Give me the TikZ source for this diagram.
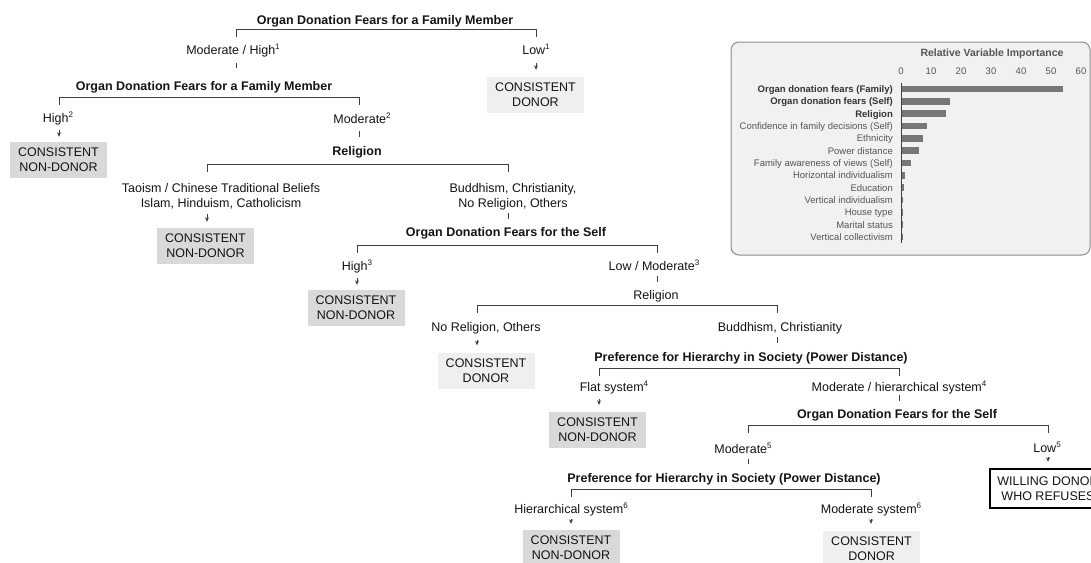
\documentclass[tikz,border=0pt]{standalone}
\usepackage{fontspec}
\setmainfont{Liberation Sans}
\usetikzlibrary{arrows.meta}
\definecolor{txt}{HTML}{141414}
\definecolor{lc}{HTML}{3F3F3F}
\definecolor{lightbox}{HTML}{EFEFEF}
\definecolor{darkbox}{HTML}{D9D9D9}
\definecolor{chartbg}{HTML}{F1F1F1}
\definecolor{frame}{HTML}{8C8C8C}
\definecolor{barc}{HTML}{777777}
\definecolor{cbold}{HTML}{333333}
\definecolor{creg}{HTML}{555555}
\newcommand\supr[1]{\raisebox{0.42em}{\fontsize{8}{8}\selectfont #1}}
\begin{document}
\begin{tikzpicture}[x=1pt,y=-1pt,
  lab/.style={font=\fontsize{12.5}{15}\selectfont, text=txt, inner sep=0pt, text height=9pt, text depth=3pt, anchor=base},
  ttl/.style={lab, font=\fontsize{12.5}{15}\selectfont\bfseries},
  ml/.style={font=\fontsize{12.5}{15}\selectfont, text=txt, inner sep=0pt, align=center, anchor=north},
  box/.style={font=\fontsize{12.5}{15}\selectfont, text=txt, align=center, minimum width=97pt, minimum height=36pt, inner sep=0pt},
  nond/.style={box, fill=darkbox},
  don/.style={box, fill=lightbox},
  will/.style={box, draw=black, line width=2.5pt, fill=white, minimum width=116pt, minimum height=39pt},
  ln/.style={draw=lc, line width=1pt},
  arr/.style={ln, -{Stealth[length=4.5pt, width=4pt]}},
  clabb/.style={font=\fontsize{9.5}{11}\selectfont\bfseries, text=cbold, inner sep=0pt, anchor=base east},
  clabr/.style={font=\fontsize{9.5}{11}\selectfont, text=creg, inner sep=0pt, anchor=base east},
  ctick/.style={font=\fontsize{9.5}{11}\selectfont, text=creg, inner sep=0pt, anchor=base},
  ctitle/.style={font=\fontsize{10.5}{12}\selectfont\bfseries, text=creg, inner sep=0pt, anchor=base}
]
\path[use as bounding box] (0,0) rectangle (1091,562);
\clip (0,0) rectangle (1091,562);
\fill[white] (0,0) rectangle (1091,562);

% bracket coordinates
\coordinate (b1l) at (236,37);  \coordinate (b1r) at (536,37);
\coordinate (b2l) at (59,105);  \coordinate (b2r) at (359,105);
\coordinate (b3l) at (207,172); \coordinate (b3r) at (508,172);
\coordinate (b4l) at (357,253); \coordinate (b4r) at (657,253);
\coordinate (b5l) at (477,313); \coordinate (b5r) at (777,313);
\coordinate (b6l) at (599,376); \coordinate (b6r) at (899,376);
\coordinate (b7l) at (748,433); \coordinate (b7r) at (1048,433);
\coordinate (b8l) at (571,497); \coordinate (b8r) at (871,497);

% nodes
\node[ttl] (T1) at (385,24.5) {Organ Donation Fears for a Family Member};
\node[lab] (L1a) at (233,54.5) {Moderate / High\supr{1}};
\node[lab] (L1b) at (536,54.5) {Low\supr{1}};
\node[don] (D1) at (535.5,95) {CONSISTENT\\DONOR};

\node[ttl] (T2) at (204,90.5) {Organ Donation Fears for a Family Member};
\node[lab] (L2a) at (58,122.5) {High\supr{2}};
\node[nond] (N1) at (58.5,160) {CONSISTENT\\NON-DONOR};
\node[lab] (L2b) at (362,123.5) {Moderate\supr{2}};

\node[ttl] (T3) at (357,155.5) {Religion};
\node[ml] (L3a) at (221,183.4) {Taoism / Chinese Traditional Beliefs\\Islam, Hinduism, Catholicism};
\node[nond] (N2) at (205.5,246) {CONSISTENT\\NON-DONOR};
\node[ml] (L3b) at (513,183.4) {Buddhism, Christianity,\\No Religion, Others};

\node[ttl] (T4) at (506,236.5) {Organ Donation Fears for the Self};
\node[lab] (L4a) at (357,270.5) {High\supr{3}};
\node[nond] (N3) at (356,308) {CONSISTENT\\NON-DONOR};
\node[lab] (L4b) at (654,270.5) {Low / Moderate\supr{3}};

\node[lab] (T5) at (656,299.5) {Religion};
\node[lab] (L5a) at (486,331.5) {No Religion, Others};
\node[don] (D2) at (486,370.5) {CONSISTENT\\DONOR};
\node[lab] (L5b) at (780,331.5) {Buddhism, Christianity};

\node[ttl] (T6) at (751,361.5) {Preference for Hierarchy in Society (Power Distance)};
\node[lab] (L6a) at (614,391.5) {Flat system\supr{4}};
\node[nond] (N4) at (597.5,430) {CONSISTENT\\NON-DONOR};
\node[lab] (L6b) at (899,391.5) {Moderate / hierarchical system\supr{4}};

\node[ttl] (T7) at (897,418.5) {Organ Donation Fears for the Self};
\node[lab] (L7a) at (743,453.5) {Moderate\supr{5}};
\node[lab] (L7b) at (1047,452.5) {Low\supr{5}};
\node[will] (W) at (1048,488.5) {WILLING DONOR\\WHO REFUSES};

\node[ttl] (T8) at (724,482.5) {Preference for Hierarchy in Society (Power Distance)};
\node[lab] (L8a) at (571,513.5) {Hierarchical system\supr{6}};
\node[nond] (N5) at (571,548) {CONSISTENT\\NON-DONOR};
\node[lab] (L8b) at (871,513.5) {Moderate system\supr{6}};
\node[don] (D3) at (871.5,549) {CONSISTENT\\DONOR};

% brackets
\foreach \b in {1,...,8} {\draw[ln] (b\b l) -- ++(0,-8) -| (b\b r);}

% connectors
\draw[ln, shorten <=5.5pt, shorten >=13.5pt] (b1l |- L1a.south) -- (b1l |- T2.north);
\draw[arr, shorten <=5.5pt, shorten >=7pt] (b1r |- L1b.south) -- (b1r |- D1.north);
\draw[arr, shorten <=4.5pt, shorten >=5pt] (b2l |- L2a.south) -- (b2l |- N1.north);
\draw[ln, shorten <=4.5pt, shorten >=9.5pt] (b2r |- L2b.south) -- (b2r |- T3.north);
\draw[arr, shorten <=5pt, shorten >=6pt] (b3l |- L3a.south) -- (b3l |- N2.north);
\draw[ln, shorten <=3pt, shorten >=8.5pt] (b3r |- L3b.south) -- (b3r |- T4.north);
\draw[arr, shorten <=4.5pt, shorten >=5pt] (b4l |- L4a.south) -- (b4l |- N3.north);
\draw[ln, shorten <=2.5pt, shorten >=8.5pt] (b4r |- L4b.south) -- (b4r |- T5.north);
\draw[arr, shorten <=5.5pt, shorten >=7pt] (b5l |- L5a.south) -- (b5l |- D2.north);
\draw[ln, shorten <=2.5pt, shorten >=9.5pt] (b5r |- L5b.south) -- (b5r |- T6.north);
\draw[arr, shorten <=4.5pt, shorten >=7pt] (b6l |- L6a.south) -- (b6l |- N4.north);
\draw[ln, shorten <=0.5pt, shorten >=8.5pt] (b6r |- L6b.south) -- (b6r |- T7.north);
\draw[ln, shorten <=2.5pt, shorten >=9.5pt] (b7l |- L7a.south) -- (b7l |- T8.north);
\draw[arr, shorten <=1.5pt, shorten >=6pt] (b7r |- L7b.south) -- (b7r |- W.north);
\draw[arr, shorten <=2.5pt, shorten >=6pt] (b8l |- L8a.south) -- (b8l |- N5.north);
\draw[arr, shorten <=2.5pt, shorten >=7pt] (b8r |- L8b.south) -- (b8r |- D3.north);

% chart
\draw[draw=frame, fill=chartbg, line width=1pt, rounded corners=8pt] (731,42) rectangle (1090,255);
\node[ctitle] (ct) at (992,56.8) {Relative Variable Importance};
\foreach \v [count=\i] in {0,10,20,30,40,50,60} {
  \node[ctick] (tk\i) at ({901+3*\v},74.4) {\v};
}
\coordinate (ax1) at (901,83);
\coordinate (ax2) at (901,243);
\draw[draw=black!75, line width=1pt] (ax1) -- (ax2);
\foreach \t/\v [count=\i] in {Organ donation fears (Family)/54, Organ donation fears (Self)/16.3, Religion/15} {
  \pgfmathsetmacro\yy{89+12.33*(\i-1)}
  \node[clabb] (cl\i) at (893,\yy+3.4) {\t};
  \fill[barc] (902,\yy-3.25) rectangle ({901+3*\v},\yy+3.25);
}
\foreach \t/\v [count=\i from 4] in {Confidence in family decisions (Self)/8.3, Ethnicity/7, Power distance/5.7, Family awareness of views (Self)/3, Horizontal individualism/1, Education/0.7, Vertical individualism/0, House type/0, Marital status/0, Vertical collectivism/0} {
  \pgfmathsetmacro\yy{89+12.33*(\i-1)}
  \node[clabr] (cl\i) at (893,\yy+3.4) {\t};
  \fill[barc] (902,\yy-3.25) rectangle ({901.6+3*\v},\yy+3.25);
}
\end{tikzpicture}
\end{document}
